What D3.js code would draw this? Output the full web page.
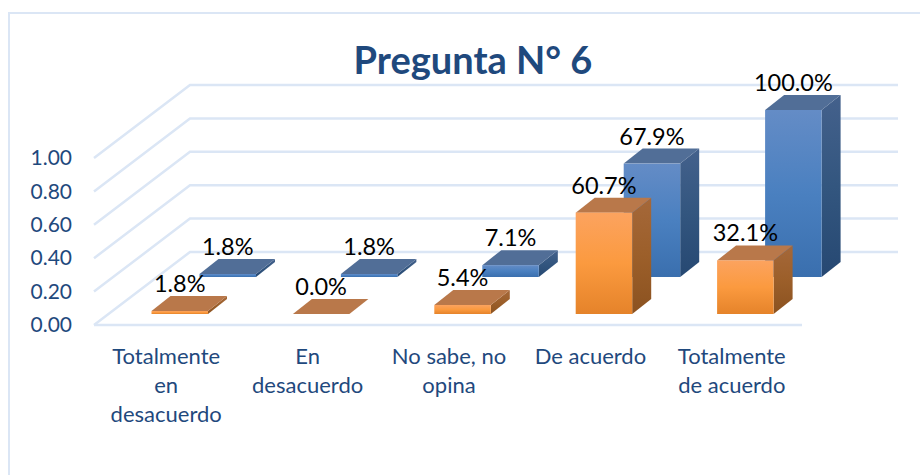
<!DOCTYPE html>
<html>
<head>
<meta charset="utf-8">
<script src="https://cdn.jsdelivr.net/npm/d3@7"></script>
<style>
  body { margin: 0; background: #fff; }
  text { font-family: Lato, "Open Sans", sans-serif; }
</style>
</head>
<body>
<div id="chart"></div>
<script>
// values
const categories = ["Totalmente en desacuerdo", "En desacuerdo", "No sabe, no opina", "De acuerdo", "Totalmente de acuerdo"];
const categoryLines = [["Totalmente", "en", "desacuerdo"], ["En", "desacuerdo"], ["No sabe, no", "opina"], ["De acuerdo"], ["Totalmente", "de acuerdo"]];
const frontSeries = [0.018, 0.0, 0.054, 0.607, 0.321];
const backSeries = [0.018, 0.018, 0.071, 0.679, 1.0];
const yTicks = [0, 0.2, 0.4, 0.6, 0.8, 1.0];

const width = 920, height = 475;
const floorLeft = 94, floorRight = 802, floorY = 325;
const wallDx = 96, wallDy = -73;
const barW = 56.5, depthDx = 19, depthDy = -15;

const svg = d3.select("#chart").append("svg")
    .attr("width", width)
    .attr("height", height)
    .style("display", "block");

// gradients for the bar faces
const defs = svg.append("defs");
function gradient(id, top, mid, bottom) {
    const g = defs.append("linearGradient").attr("id", id)
        .attr("x1", 0).attr("y1", 0).attr("x2", 0).attr("y2", 1);
    g.append("stop").attr("offset", "0%").attr("stop-color", top);
    g.append("stop").attr("offset", "50%").attr("stop-color", mid);
    g.append("stop").attr("offset", "100%").attr("stop-color", bottom);
}
gradient("orangeFront", "#fca35f", "#fb9a3f", "#e5832a");
gradient("orangeSide", "#a5683a", "#9c5f2a", "#8b5220");
gradient("blueFront", "#648cc6", "#4a80c0", "#3a6fae");
gradient("blueSide", "#44618c", "#33567f", "#264872");

// chart frame
svg.append("rect")
    .attr("x", 9).attr("y", 13)
    .attr("width", 960).attr("height", 500)
    .attr("fill", "#fff")
    .attr("stroke", "#dbe6f5")
    .attr("stroke-width", 2);

const x = d3.scaleBand()
    .domain(categories)
    .range([floorLeft + 0.5, floorRight - 0.5]);

// 0..1 maps to 167px for the axis
const y = d3.scaleLinear().domain([0, 1]).range([floorY, floorY - 167]);
// bar heights run on the same scale
const barH = v => floorY - y(v);

// gridlines, front edge, wall and floor
const grid = svg.append("g")
    .attr("fill", "none")
    .attr("stroke", "#dbe6f5")
    .attr("stroke-width", 2.5);

grid.selectAll("path")
    .data(yTicks)
    .enter()
    .append("path")
    .attr("d", d => "M" + floorLeft + "," + y(d) + "L" + (floorLeft + wallDx) + "," + (y(d) + wallDy) + "H" + (floorRight + wallDx));

grid.append("path").attr("d", "M" + floorLeft + "," + floorY + "H" + floorRight);

// y axis
const axis = svg.append("g")
    .attr("transform", "translate(" + (floorLeft - 22) + ",0)")
    .call(d3.axisLeft(y).tickValues(yTicks).tickSize(0).tickFormat(d3.format(".2f")));
axis.select(".domain").remove();
axis.selectAll("text")
    .attr("x", 0)
    .attr("fill", "#1f497d")
    .style("font-size", "21px");

// one 3D column: side, top and front faces
function drawBars(series, cls, offsetX, baseY, front, side, topColor) {
    const bars = svg.append("g").attr("class", cls)
        .selectAll("g")
        .data(series.map((v, i) => ({ v: v, cat: categories[i] })))
        .enter()
        .append("g");

    bars.append("path")
        .attr("fill", "url(#" + side + ")")
        .attr("d", d => {
            const r = x(d.cat) + offsetX + barW, t = baseY - barH(d.v);
            return "M" + r + "," + t + "l" + depthDx + "," + depthDy + "V" + (baseY + depthDy) + "l" + (-depthDx) + "," + (-depthDy) + "Z";
        });

    bars.append("path")
        .attr("fill", topColor)
        .attr("d", d => {
            const l = x(d.cat) + offsetX, t = baseY - barH(d.v);
            return "M" + l + "," + t + "l" + depthDx + "," + depthDy + "h" + barW + "l" + (-depthDx) + "," + (-depthDy) + "Z";
        });

    bars.append("rect")
        .attr("x", d => x(d.cat) + offsetX)
        .attr("y", d => baseY - barH(d.v))
        .attr("width", barW)
        .attr("height", d => barH(d.v))
        .attr("fill", "url(#" + front + ")");

    // value labels
    bars.append("text")
        .attr("x", d => x(d.cat) + offsetX + barW / 2)
        .attr("y", d => baseY - barH(d.v) + depthDy - 4)
        .attr("text-anchor", "middle")
        .attr("fill", "#000")
        .style("font-size", "23.5px")
        .text(d => d3.format(".1%")(d.v));
}

// blue row stands behind the orange one
drawBars(backSeries, "back", 105, 277, "blueFront", "blueSide", "#516e97");
drawBars(frontSeries, "front", 57, 314, "orangeFront", "orangeSide", "#b9784a");

// category labels
const labels = svg.append("g")
    .selectAll("text")
    .data(categories)
    .enter()
    .append("text")
    .attr("text-anchor", "middle")
    .attr("fill", "#1f497d")
    .style("font-size", "22px")
    .attr("y", 364);

labels.selectAll("tspan")
    .data((d, i) => categoryLines[i])
    .enter()
    .append("tspan")
    .attr("x", function() { return x(d3.select(this.parentNode).datum()) + x.bandwidth() / 2 + 1; })
    .attr("dy", (d, i) => i ? 29 : 0)
    .text(d => d);

// title
svg.append("text")
    .attr("x", 473)
    .attr("y", 74)
    .attr("text-anchor", "middle")
    .attr("fill", "#1f497d")
    .style("font-size", "38px")
    .style("font-weight", "700")
    .text("Pregunta N° 6");
</script>
</body>
</html>
